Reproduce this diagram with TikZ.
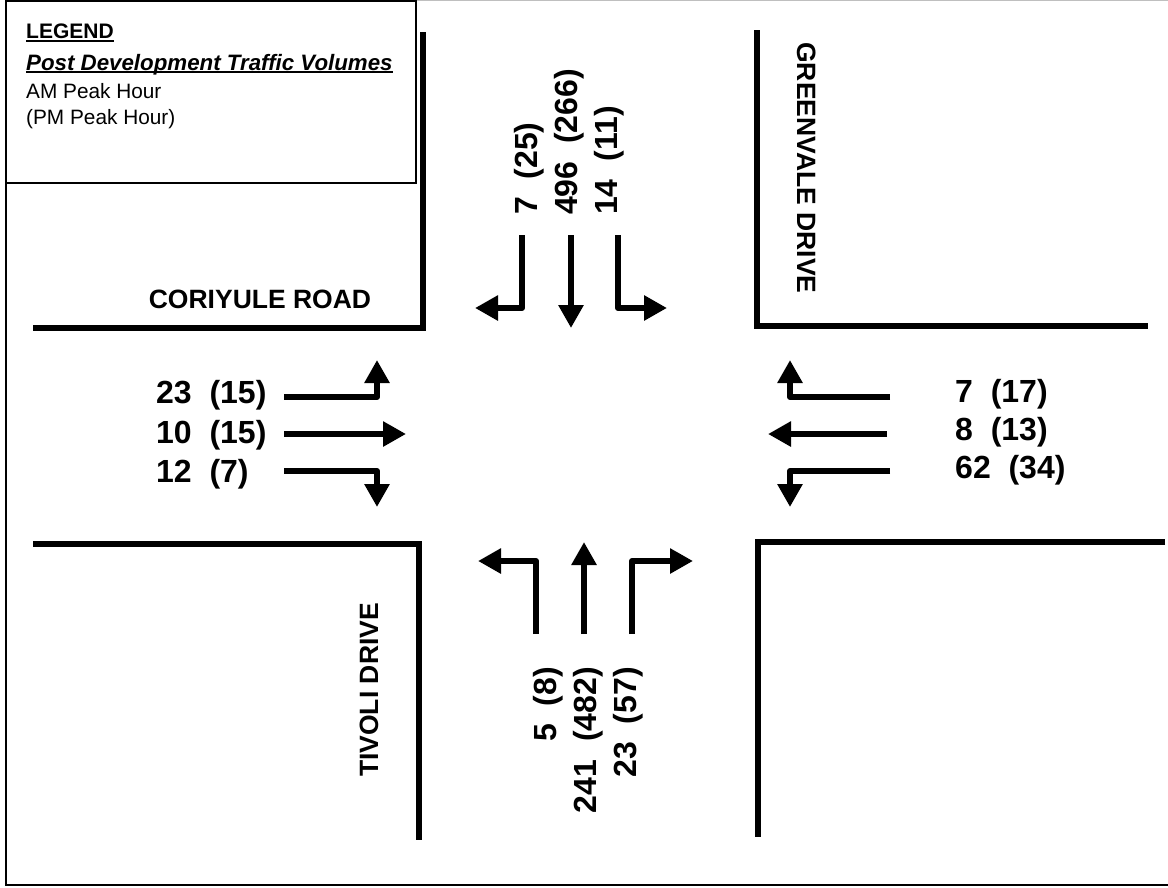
\documentclass[tikz,border=0pt]{standalone}
\usepackage{fontspec}
\setmainfont{Liberation Sans}
\usetikzlibrary{arrows.meta}
\tikzset{
  roadline/.style={line width=5.5pt, line join=miter},
  trafficarrow/.style={
    -{Triangle[length=23pt, width=24pt]}, line width=6pt, line join=round
  },
  framebox/.style={draw=black, line width=2pt},
  underrule/.style={line width=1.6pt, shorten <=0pt},
  volume/.style={font=\fontsize{32}{36}\selectfont\bfseries, inner sep=0pt},
  roadname/.style={font=\fontsize{26.5}{30}\selectfont\bfseries, inner sep=0pt, anchor=base},
  legendhead/.style={font=\fontsize{21}{25}\selectfont\bfseries, inner sep=0pt, anchor=base west},
  legendtext/.style={font=\fontsize{20.8}{25}\selectfont, inner sep=0pt, anchor=base west},
}

\begin{document}
\begin{tikzpicture}[x=1pt, y=-1pt]
  \useasboundingbox (0,0) rectangle (1168,887);
  % outer frame
  \draw[line width=0.8pt, black!25] (416,0.5) -- (1168,0.5);
  \draw[framebox] (6,0) -- (6,885) -- (1168,885);

  % kerbs
  \draw[roadline] (423,32) -- (423,328) -- (33,328);
  \draw[roadline] (757,30) -- (757,326) -- (1148,326);
  \draw[roadline] (33,544) -- (419,544) -- (419,840);
  \draw[roadline] (1165,542) -- (758,542) -- (758,837);

  % legend
  \draw[framebox, fill=white] (6,1) rectangle (416,183);
  \node[legendhead] (legendtitle) at (26,38) {LEGEND};
  \node[legendhead, font=\fontsize{22.3}{25}\selectfont\bfseries\itshape] (legendsub) at (26,70) {Post Development Traffic Volumes};
  \node[legendtext] (legendam) at (26,98) {AM Peak Hour};
  \node[legendtext] (legendpm) at (26,124) {(PM Peak Hour)};
  \draw[underrule] ([yshift=-3pt]legendtitle.base west) -- ([yshift=-3pt]legendtitle.base east);
  \draw[underrule] ([yshift=-2pt]legendsub.base west) -- ([yshift=-2pt]legendsub.base east);

  % road names
  \node[roadname] (coriyule) at (260,308) {CORIYULE ROAD};
  \node[roadname, rotate=-90] (greenvale) at (797,168) {GREENVALE DRIVE};
  \node[roadname, rotate=90] (tivoli) at (378,690) {TIVOLI DRIVE};

  % north approach
  \draw[trafficarrow] (522,235) -- (522,308) -- (475,308);
  \draw[trafficarrow] (571,235) -- (571,328);
  \draw[trafficarrow] (618,235) -- (618,308) -- (667,308);
  \node[volume, rotate=90, anchor=base west] (north1) at (537,215) {7~~(25)};
  \node[volume, rotate=90, anchor=base west] (north2) at (577,215) {496~~(266)};
  \node[volume, rotate=90, anchor=base west] (north3) at (617,215) {14~~(11)};

  % west approach
  \draw[trafficarrow] (284,397) -- (377,397) -- (377,360);
  \draw[trafficarrow] (284,434) -- (406,434);
  \draw[trafficarrow] (284,471) -- (377,471) -- (377,507);
  \node[volume, anchor=base west] (west1) at (156,403) {23~~(15)};
  \node[volume, anchor=base west] (west2) at (156,443) {10~~(15)};
  \node[volume, anchor=base west] (west3) at (156,482) {12~~(7)};

  % east approach
  \draw[trafficarrow] (890,397) -- (790,397) -- (790,360);
  \draw[trafficarrow] (887,434) -- (768,434);
  \draw[trafficarrow] (890,471) -- (790,471) -- (790,507);
  \node[volume, anchor=base west] (east1) at (955,402) {7~~(17)};
  \node[volume, anchor=base west] (east2) at (955,440) {8~~(13)};
  \node[volume, anchor=base west] (east3) at (955,478) {62~~(34)};

  % south approach
  \draw[trafficarrow] (536,634) -- (536,561) -- (478,561);
  \draw[trafficarrow] (584,634) -- (584,542);
  \draw[trafficarrow] (632,634) -- (632,561) -- (693,561);
  \node[volume, rotate=90, anchor=base east] (south1) at (556,667) {5~~(8)};
  \node[volume, rotate=90, anchor=base east] (south2) at (596,667) {241~~(482)};
  \node[volume, rotate=90, anchor=base east] (south3) at (636,667) {23~~(57)};
\end{tikzpicture}
\end{document}
